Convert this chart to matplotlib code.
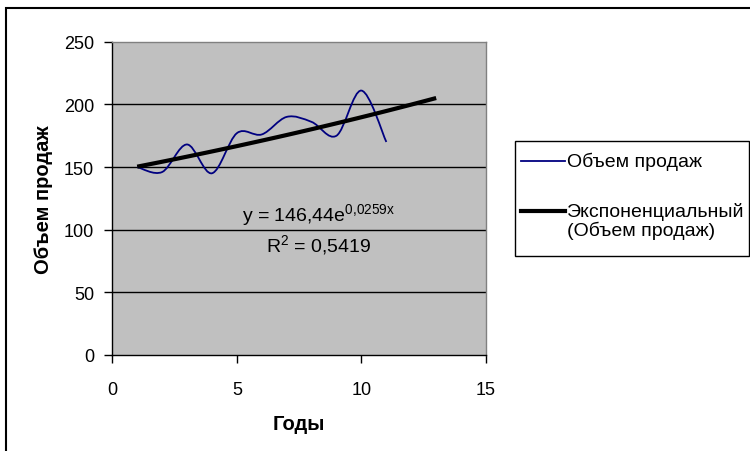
import numpy as np
import matplotlib
matplotlib.use("Agg")
import matplotlib.pyplot as plt
from matplotlib.path import Path
from matplotlib.patches import PathPatch, Rectangle
from matplotlib.lines import Line2D

plt.rcParams['font.family'] = ['Liberation Sans', 'DejaVu Sans']
plt.rcParams['mathtext.fontset'] = 'custom'
plt.rcParams['mathtext.rm'] = 'Liberation Sans'
plt.rcParams['mathtext.it'] = 'Liberation Sans'

# data
years = [1, 2, 3, 4, 5, 6, 7, 8, 9, 10, 11]
sales = [150, 146, 168, 145, 177, 176, 190, 186, 175, 211, 170]

# exponential trendline (Excel fit), forecast to year 13
trend_a = 146.44
trend_b = 0.0259
trend_end = 13

series_label = "Объем продаж"
trend_label = "Экспоненциальный\n(Объем продаж)"
x_label = "Годы"
y_label = "Объем продаж"
x_ticks = [0, 5, 10, 15]
y_ticks = [0, 50, 100, 150, 200, 250]

W, H = 750, 452


def smooth_path(xs, ys):
    """Excel-like smoothed line: Catmull-Rom converted to cubic Bezier segments."""
    pts = np.column_stack([xs, ys]).astype(float)
    n = len(pts)
    verts = [pts[0]]
    codes = [Path.MOVETO]
    for i in range(n - 1):
        p0 = pts[max(i - 1, 0)]
        p1 = pts[i]
        p2 = pts[i + 1]
        p3 = pts[min(i + 2, n - 1)]
        c1 = p1 + (p2 - p0) / 6.0
        c2 = p2 - (p3 - p1) / 6.0
        verts += [c1, c2, p2]
        codes += [Path.CURVE4] * 3
    return Path(verts, codes)


fig = plt.figure(figsize=(W / 100, H / 100), dpi=100)
ax = fig.add_axes([112.3 / W, 1 - 356 / H, (486 - 112.3) / W, (356 - 42.7) / H])
ax.set_facecolor("#c0c0c0")

ax.set_xlim(0, 15)
ax.set_ylim(0, 250)
ax.set_xticks(x_ticks)
ax.set_yticks(y_ticks)
ax.tick_params(axis="both", direction="out", length=6, width=1, labelsize=13, colors="black")
ax.tick_params(axis="x", pad=13)
ax.tick_params(axis="y", pad=7)

for y in y_ticks[1:-1]:
    ax.axhline(y, color="black", lw=1, zorder=1)

ax.spines["left"].set_color("black")
ax.spines["bottom"].set_color("black")
ax.spines["top"].set_color("#808080")
ax.spines["right"].set_color("#808080")
for s in ax.spines.values():
    s.set_linewidth(1)

# data series (smoothed)
ax.add_patch(PathPatch(smooth_path(years, sales), facecolor="none",
                       edgecolor="#000080", lw=1.3, zorder=3))

# trendline
tx = np.linspace(years[0], trend_end, 60)
ax.plot(tx, trend_a * np.exp(trend_b * tx), color="black", lw=3, zorder=4,
        solid_capstyle="butt")

ax.text(8.29, 108, r"y = 146,44e$^{\mathregular{0{,}0259x}}$", fontsize=14,
        ha="center", va="baseline")
ax.text(8.29, 83.3, r"R$^{\mathregular{2}}$ = 0,5419", fontsize=14,
        ha="center", va="baseline")

ax.set_xlabel(x_label, fontsize=14.5, fontweight="bold", labelpad=11)
ax.set_ylabel(y_label, fontsize=14.5, fontweight="bold", labelpad=8)

# legend box (drawn by hand so the thick handle sits on the first label line)
fig.add_artist(Rectangle((515 / W, 1 - 257 / H), (749 - 515) / W, (257 - 142) / H,
                         transform=fig.transFigure, fill=True, facecolor="white",
                         edgecolor="black", lw=1))
fig.add_artist(Line2D([521 / W, 565 / W], [1 - 162 / H] * 2, color="#000080", lw=1.3))
fig.add_artist(Line2D([521 / W, 565 / W], [1 - 212 / H] * 2, color="black", lw=3))
fig.text(567 / W, 1 - 162 / H, series_label, fontsize=14, va="center", ha="left")
fig.text(567 / W, 1 - 203 / H, trend_label, fontsize=14, va="top", ha="left",
         linespacing=1.05)

# outer chart border (runs off the right and bottom edge)
fig.add_artist(Rectangle((6 / W, -0.1), 1.2, 0.1 + 443 / H,
                         transform=fig.transFigure, fill=False,
                         edgecolor="black", lw=1.5, clip_on=False))

fig.savefig("out.png", dpi=100)
